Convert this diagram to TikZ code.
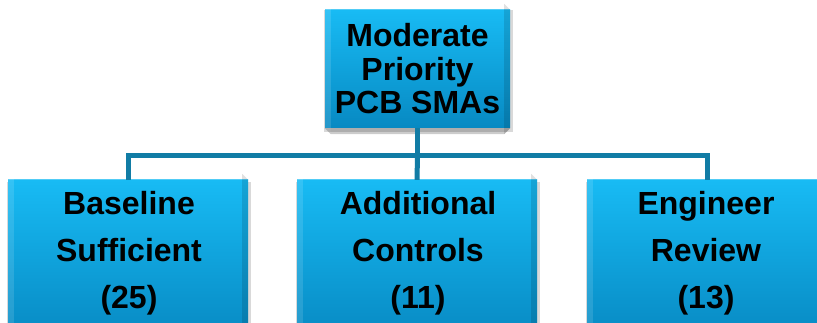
\documentclass[tikz,border=0pt]{standalone}
\usepackage{fontspec}
\setmainfont{Liberation Sans}
\usetikzlibrary{calc}
\definecolor{boxtop}{HTML}{18BBF4}
\definecolor{boxbot}{HTML}{0789C2}
\definecolor{linecol}{HTML}{117CA5}
\tikzset{
  box/.style={rectangle, inner sep=0pt, top color=boxtop, bottom color=boxbot, draw=none},
  shadowbox/.style={rectangle, inner sep=0pt, fill=black, opacity=0.15, draw=none},
  conn/.style={draw=linecol, line width=5pt, line join=miter},
  toptext/.style={anchor=base, inner sep=0pt, font=\bfseries\fontsize{32}{33}\selectfont},
  bottext/.style={anchor=base, inner sep=0pt, font=\bfseries\fontsize{32}{47}\selectfont},
}
\newcommand\bevelbox[1]{%
  \fill[white, opacity=0.25] (#1.north west) -- (#1.north east) -- ($(#1.north east)+(-6,-6)$) -- ($(#1.north west)+(6,-6)$) -- cycle;
  \fill[white, opacity=0.12] (#1.north west) -- ($(#1.north west)+(6,-6)$) -- ($(#1.south west)+(6,6)$) -- (#1.south west) -- cycle;
  \fill[black, opacity=0.12] (#1.north east) -- (#1.south east) -- ($(#1.south east)+(-6,6)$) -- ($(#1.north east)+(-6,-6)$) -- cycle;
  \fill[black, opacity=0.2] (#1.south west) -- ($(#1.south west)+(6,6)$) -- ($(#1.south east)+(-6,6)$) -- (#1.south east) -- cycle;
}
\begin{document}
\begin{tikzpicture}[x=1pt, y=-1pt]
\useasboundingbox (0,0) rectangle (817,323);
\clip (0,0) rectangle (817,323);
\fill[white] (0,0) rectangle (817,323);
\coordinate (bus) at (417.5,156);
% shadows
\node[shadowbox, minimum width=189pt, minimum height=122pt] (sh0) at (418.5,71) {};
\node[shadowbox, minimum width=244pt, minimum height=160pt] (sh1) at (129,262) {};
\node[shadowbox, minimum width=244pt, minimum height=160pt] (sh2) at (418,262) {};
\node[shadowbox, minimum width=244pt, minimum height=160pt] (sh3) at (708,262) {};
% boxes
\node[box, minimum width=185pt, minimum height=118pt] (top) at (417.5,69) {};
\node[box, minimum width=240pt, minimum height=160pt] (b1) at (128,260) {};
\node[box, minimum width=240pt, minimum height=160pt] (b2) at (417,260) {};
\node[box, minimum width=240pt, minimum height=160pt] (b3) at (707,260) {};
\bevelbox{top}
\bevelbox{b1}
\bevelbox{b2}
\bevelbox{b3}
% connectors
\draw[conn] (top.south) -- (bus);
\draw[conn] (b1.north) |- (bus) -| (b3.north);
\draw[conn] (bus) -- (b2.north);
% texts
\node[toptext] (ttop) at (417.5,47) {\begin{tabular}[t]{@{}c@{}}Moderate\\Priority\\PCB SMAs\end{tabular}};
\node[bottext] (t1) at (129,215) {\begin{tabular}[t]{@{}c@{}}Baseline\\Sufficient\\(25)\end{tabular}};
\node[bottext] (t2) at (418,215) {\begin{tabular}[t]{@{}c@{}}Additional\\Controls\\(11)\end{tabular}};
\node[bottext] (t3) at (706,215) {\begin{tabular}[t]{@{}c@{}}Engineer\\Review\\(13)\end{tabular}};
\end{tikzpicture}
\end{document}
